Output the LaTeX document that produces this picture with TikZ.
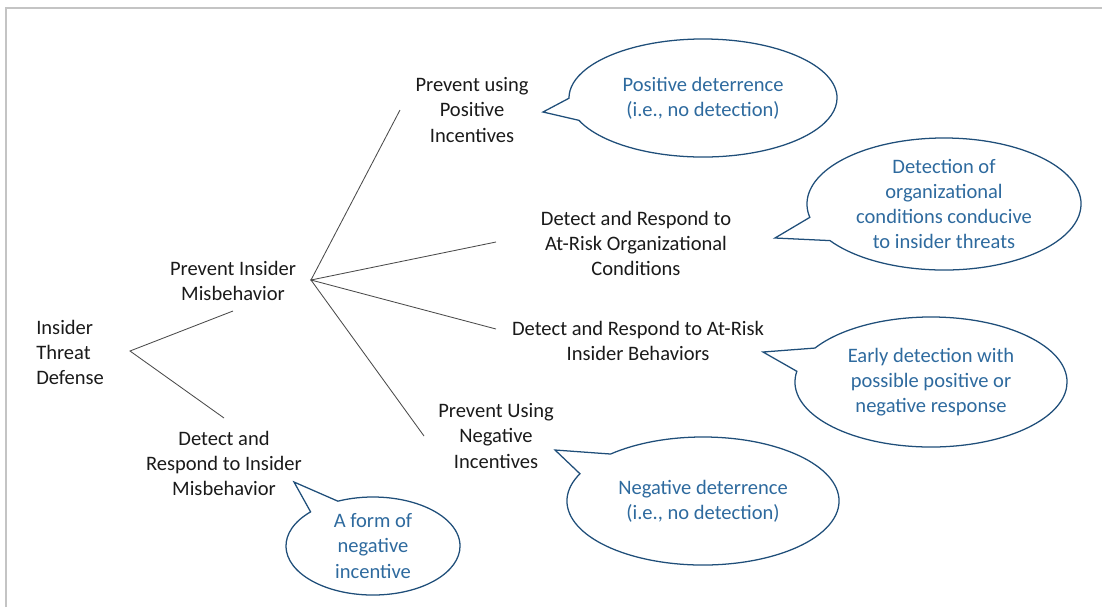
\documentclass[tikz,border=0pt]{standalone}
\usepackage{fontspec}
\setmainfont{Carlito}
\usepackage{tikz}
\usetikzlibrary{shapes.callouts}
\definecolor{frame}{HTML}{C4C4C4}
\definecolor{branch}{HTML}{4A4A4A}
\definecolor{label}{HTML}{1A1A1A}
\definecolor{bubble}{HTML}{1F4E79}
\definecolor{note}{HTML}{2E6A9E}
\newcommand{\txt}{\fontsize{14.6}{17.8}\selectfont}

\begin{document}
\begin{tikzpicture}[x=0.025cm,y=-0.025cm,
  item/.style={align=center,text=label,font=\txt,inner sep=0pt},
  bubble/.style={ellipse callout,draw=bubble,line width=0.9pt,text=note,
    align=center,font=\txt,inner sep=0pt,callout pointer arc=22},
  twig/.style={draw=branch,line width=0.6pt}]
  \useasboundingbox (0,0) rectangle (1102,607);
  \draw[frame,line width=1.4pt] (6,607) -- (6,8) -- (1102,8);

  % labels of the tree
  \node[item,align=left,anchor=west] (root) at (36,352) {Insider\\Threat\\Defense};
  \node[item] (pim) at (233,281) {Prevent Insider\\Misbehavior};
  \node[item] (drm) at (224,463) {Detect and\\Respond to Insider\\Misbehavior};
  \node[item] (ppi) at (472,110) {Prevent using\\Positive\\Incentives};
  \node[item] (dro) at (636,243) {Detect and Respond to\\At-Risk Organizational\\Conditions};
  \node[item] (drb) at (638,341) {Detect and Respond to At-Risk\\Insider Behaviors};
  \node[item] (pni) at (496,436) {Prevent Using\\Negative\\Incentives};

  % ends of the branches
  \coordinate (rootR) at (130,351);
  \coordinate (pimB) at (233,311);
  \coordinate (drmT) at (224,418);
  \coordinate (pimR) at (311,280);
  \coordinate (ppiL) at (400,110);
  \coordinate (droL) at (496,242);
  \coordinate (drbL) at (496,329);
  \coordinate (pniL) at (424,436);

  \draw[twig] (pimB) -- (rootR) -- (drmT);
  \draw[twig] (ppiL) -- (pimR) -- (droL);
  \draw[twig] (drbL) -- (pimR) -- (pniL);

  % tips of the callouts
  \coordinate (tipP) at (543,112);
  \coordinate (tipO) at (775,238);
  \coordinate (tipB) at (763,352);
  \coordinate (tipN) at (555,450);
  \coordinate (tipD) at (294,482);

  \node[bubble,minimum width=6.7cm,minimum height=2.95cm,
    callout absolute pointer={(tipP)}] (posdet) at (703,98)
    {Positive deterrence\\(i.e., no detection)};
  \node[bubble,minimum width=6.85cm,minimum height=3.3cm,
    callout absolute pointer={(tipO)}] (orgdet) at (944,204)
    {Detection of\\organizational\\conditions conducive\\to insider threats};
  \node[bubble,minimum width=6.8cm,minimum height=3.25cm,
    callout absolute pointer={(tipB)}] (early) at (931,382)
    {Early detection with\\possible positive or\\negative response};
  \node[bubble,minimum width=6.8cm,minimum height=3.2cm,
    callout absolute pointer={(tipN)}] (negdet) at (703,501)
    {Negative deterrence\\(i.e., no detection)};
  \node[bubble,minimum width=4.35cm,minimum height=2.45cm,
    callout absolute pointer={(tipD)}] (form) at (373,546)
    {A form of\\negative\\incentive};
\end{tikzpicture}
\end{document}
